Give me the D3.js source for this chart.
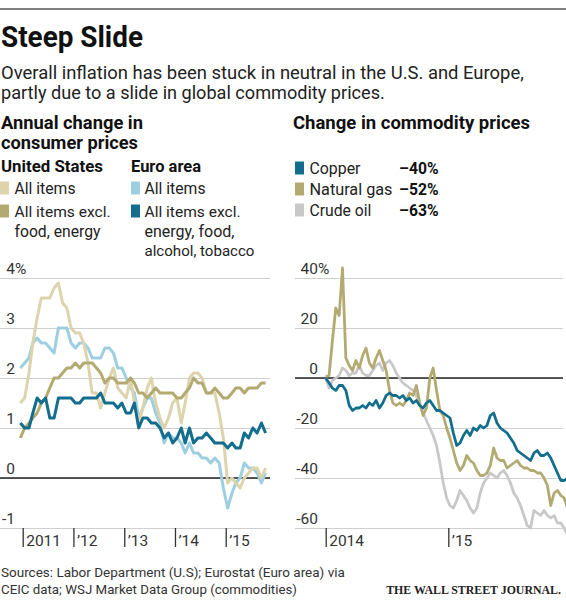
<!DOCTYPE html>
<html><head><meta charset="utf-8">
<script src="https://cdn.jsdelivr.net/npm/d3@7"></script>
<style>
body{margin:0;background:#fff}
svg{display:block}
</style>
</head><body>
<svg id="c" width="566" height="600" font-family="Roboto, 'Noto Sans', sans-serif"></svg>
<script>
// ---------------- DATA ----------------
// Monthly consumer prices, annual % change, Dec 2010 .. Oct 2015
const cpiStart = new Date(2010, 11, 15);
const usAll = [1.5,
  1.6,2.1,2.7,3.2,3.6,3.6,3.6,3.8,3.9,3.5,3.4,3.0,
  2.9,2.9,2.7,2.3,1.7,1.7,1.4,1.7,2.0,2.2,1.8,1.7,
  1.6,2.0,1.5,1.1,1.4,1.8,2.0,1.5,1.2,1.0,1.2,1.5,
  1.6,1.1,1.5,2.0,2.1,2.1,2.0,1.7,1.7,1.7,1.3,0.8,
  -0.1,0.0,-0.1,-0.2,0.0,0.1,0.2,0.2,0.0,0.2];
const usCore = [0.8,
  1.0,1.1,1.2,1.3,1.5,1.6,1.8,2.0,2.0,2.1,2.2,2.2,
  2.3,2.2,2.3,2.3,2.3,2.2,2.1,1.9,2.0,2.0,1.9,1.9,
  1.9,2.0,1.9,1.7,1.7,1.6,1.7,1.8,1.7,1.7,1.7,1.7,
  1.6,1.6,1.7,1.8,2.0,1.9,1.9,1.7,1.7,1.8,1.7,1.6,
  1.6,1.7,1.8,1.8,1.7,1.8,1.8,1.8,1.9,1.9];
const euAll = [2.2,
  2.3,2.4,2.7,2.8,2.7,2.7,2.6,2.5,3.0,3.0,3.0,2.7,
  2.6,2.7,2.7,2.6,2.4,2.4,2.4,2.6,2.6,2.5,2.2,2.2,
  2.0,1.8,1.7,1.2,1.4,1.6,1.6,1.3,1.1,0.7,0.9,0.8,
  0.8,0.7,0.5,0.7,0.5,0.5,0.4,0.4,0.3,0.4,0.3,-0.2,
  -0.6,-0.3,-0.1,0.0,0.3,0.2,0.2,0.1,-0.1,0.1];
const euCore = [1.1,
  1.0,1.0,1.3,1.6,1.5,1.6,1.2,1.2,1.6,1.6,1.6,1.6,
  1.5,1.5,1.6,1.6,1.6,1.6,1.7,1.5,1.5,1.5,1.4,1.5,
  1.3,1.3,1.5,1.0,1.2,1.2,1.1,1.1,1.0,0.8,0.9,0.7,
  0.8,1.0,0.7,1.0,0.7,0.8,0.8,0.9,0.8,0.7,0.7,0.7,
  0.6,0.7,0.6,0.6,0.9,0.8,1.0,0.9,1.1,0.9];
const cpiTickYears = [2011, 2012, 2013, 2014, 2015];
const cpiTicks = [4, 3, 2, 1, 0, -1];

// Commodity prices, % change since start of 2014, every 10 days
const comStart = new Date(2014, 0, 1);
const comStepDays = 10;
const copper = [0,-2,-4,-5,-3,-3,-5,-11,-13,-12,
  -12,-11,-12,-10,-11,-9,-12,-10,-7,-6,
  -7,-7,-8,-7,-9,-8,-10,-9,-11,-12,
  -10,-9,-11,-13,-13,-14,-15,-16,-22,-27,
  -26,-23,-21,-23,-20,-21,-19,-20,-19,-15,
  -14,-18,-20,-21,-22,-24,-26,-29,-30,-31,
  -32,-33,-30,-29,-31,-31,-30,-32,-35,-38,
  -41,-41,-40];
const natGas = [0.5,1,15,28,25,44,8,5,3,7,
  4,9,12,6,4,8,11,7,3,-5,
  -10,-11,-10,-11,-9,-6,-7,-3,-10,-15,
  -12,0,4,-5,-13,-15,-20,-24,-29,-34,
  -37,-35,-31,-33,-34,-37,-39,-39,-38,-35,
  -28,-32,-33,-33,-36,-35,-34,-33,-35,-36,
  -36,-37,-37,-38,-38,-40,-43,-51,-46,-45,
  -47,-48,-52];
const crudeOil = [0,-4,-1,0,1,4,3,1,2,2,
  5,2,1,1,3,5,6,3,6,7,
  5,2,0,-2,-3,-4,-5,-7,-11,-14,
  -17,-20,-23,-27,-34,-42,-48,-51,-52,-49,
  -45,-47,-49,-52,-54,-52,-46,-42,-40,-38,
  -39,-40,-38,-37,-39,-42,-46,-48,-51,-55,
  -59,-60,-53,-54,-55,-53,-55,-56,-55,-58,
  -58,-60,-63];
const comTickYears = [2014, 2015];
const comTicks = [40, 20, 0, -20, -40, -60];
const comLegend = ["Copper", "Natural gas", "Crude oil"];
const comChange = ["–40%", "–52%", "–63%"];

// ---------------- STYLE ----------------
const C = {
  usAll: "#ddd4ad", usCore: "#b3aa72", euAll: "#9dcfe1", euCore: "#136e8e",
  copper: "#136e8e", natGas: "#b3aa72", crude: "#c8c8c8",
  grid: "#cfcfcf", zero: "#222", text: "#222"
};
const SANS = "Roboto, 'Noto Sans', sans-serif";
const SERIF = "'Liberation Serif', 'DejaVu Serif', serif";

const svg = d3.select("#c");

function txt(x, y, s, size, weight, width, opts = {}) {
  const t = svg.append("text").attr("x", x).attr("y", y)
    .style("font-family", opts.family || SANS)
    .attr("font-size", size).attr("font-weight", weight || 400)
    .attr("fill", opts.fill || C.text)
    .attr("text-anchor", opts.anchor || "start")
    .text(s);
  if (width) {
    const len = t.node().getComputedTextLength();
    t.attr("font-size", (size * width / len).toFixed(2));
  }
  return t;
}

// top rule
svg.append("line").attr("x1", 0).attr("x2", 566).attr("y1", 9).attr("y2", 9)
  .attr("stroke", "#555").attr("stroke-width", 1.5);

// title (condensed look)
svg.append("text").attr("x", 1).attr("y", 47).attr("font-size", 29).attr("font-weight", 700)
  .style("font-family", SANS)
  .attr("fill", "#111").attr("textLength", 142).attr("lengthAdjust", "spacingAndGlyphs")
  .text("Steep Slide");

txt(1, 79, "Overall inflation has been stuck in neutral in the U.S. and Europe,", 17, 400, 523);
txt(1, 99, "partly due to a slide in global commodity prices.", 17, 400, 384);

txt(1, 129, "Annual change in", 17, 700, 142, {fill: "#111"});
txt(1, 149, "consumer prices", 17, 700, 137, {fill: "#111"});
txt(293, 129, "Change in commodity prices", 17, 700, 237, {fill: "#111"});

txt(1, 172, "United States", 15, 700, 102, {fill: "#111"});
txt(131, 172, "Euro area", 15, 700, 70, {fill: "#111"});

function swatch(x, yBase, color) {
  svg.append("rect").attr("x", x).attr("y", yBase - 12.5).attr("width", 9).attr("height", 13)
    .attr("fill", color);
}
swatch(0, 194, C.usAll); txt(14.5, 194, "All items", 15.5, 400, 61);
swatch(0, 217, C.usCore); txt(14.5, 217, "All items excl.", 15.5, 400, 96);
txt(14.5, 237, "food, energy", 15.5, 400, 86);
swatch(131, 194, C.euAll); txt(144.5, 194, "All items", 15.5, 400, 61);
swatch(131, 217, C.euCore); txt(144.5, 217, "All items excl.", 15.5, 400, 96);
txt(144.5, 237, "energy, food,", 15.5, 400, 90);
txt(144.5, 256, "alcohol, tobacco", 15.5, 400, 110);

const comColors = [C.copper, C.natGas, C.crude];
const comLegendY = [174, 195, 216];
const comLegendW = [51, 83, 62];
comLegend.forEach((s, i) => {
  swatch(295, comLegendY[i], comColors[i]);
  txt(309.5, comLegendY[i], s, 15.5, 400, comLegendW[i]);
  txt(399, comLegendY[i], comChange[i], 15.5, 700, 39.5, {fill: "#111"});
});

// ---------------- AXIS HELPERS ----------------
function yGrid(g, scale, ticks, width, labelX) {
  g.call(d3.axisRight(scale).tickValues(ticks).tickSize(width)
    .tickFormat(d => d < 0 ? "-" + Math.abs(d) : String(d)));
  g.select(".domain").remove();
  g.selectAll(".tick line").attr("stroke", C.grid).attr("stroke-width", 1.1);
  g.selectAll(".tick text").attr("x", labelX).attr("y", -5).attr("dy", 0)
    .attr("text-anchor", "end").attr("font-size", 15.5).attr("fill", "#333")
    .style("font-family", SANS);
  g.selectAll(".tick").filter(d => d === ticks[0]).append("text")
    .attr("x", labelX).attr("y", -5).attr("font-size", 15.5).attr("fill", "#333")
    .style("font-family", SANS).text("%");
}
function xAxis(g, scale, years, fmt) {
  g.call(d3.axisBottom(scale).tickValues(years.map(y => new Date(y, 0, 1)))
    .tickSize(19).tickFormat(fmt));
  g.select(".domain").remove();
  g.selectAll(".tick line").attr("stroke", "#333").attr("stroke-width", 1.3);
  g.selectAll(".tick text").attr("x", 3).attr("y", 18).attr("dy", 0)
    .attr("text-anchor", "start").attr("font-size", 15.5).attr("fill", "#333")
    .style("font-family", SANS);
}
const yearFmt = first => d => d.getFullYear() === first ? String(first) : "’" + String(d.getFullYear()).slice(2);

// ---------------- LEFT CHART ----------------
const xL = d3.scaleTime().domain([new Date(2011, 0, 1), new Date(2015, 0, 1)]).range([22.7, 225.7]);
const yL = d3.scaleLinear().domain([-1, 4]).range([528, 278]);

const gL = svg.append("g");
gL.append("g").call(g => yGrid(g, yL, cpiTicks, 270, 15));
gL.append("line").attr("x1", 0).attr("x2", 270).attr("y1", yL(0)).attr("y2", yL(0))
  .attr("stroke", C.zero).attr("stroke-width", 1.3);
gL.append("g").attr("transform", "translate(0,528)")
  .call(g => xAxis(g, xL, cpiTickYears, yearFmt(2011)));

const cpiDate = i => d3.timeMonth.offset(cpiStart, i);
const lineL = d3.line().x((d, i) => xL(cpiDate(i))).y(d => yL(d));
[[euAll, C.euAll], [usAll, C.usAll], [usCore, C.usCore], [euCore, C.euCore]].forEach(([data, col]) => {
  gL.append("path").datum(data).attr("d", lineL).attr("fill", "none")
    .attr("stroke", col).attr("stroke-width", 3).attr("stroke-linejoin", "round");
});

// ---------------- RIGHT CHART ----------------
const xR = d3.scaleTime().domain([new Date(2014, 0, 1), new Date(2015, 0, 1)]).range([325.7, 448.3]);
const yR = d3.scaleLinear().domain([-60, 40]).range([528, 278]);
const gR = svg.append("g");
gR.append("g").attr("transform", "translate(295,0)").call(g => yGrid(g, yR, comTicks, 268, 23));
gR.append("line").attr("x1", 295).attr("x2", 563).attr("y1", yR(0)).attr("y2", yR(0))
  .attr("stroke", C.zero).attr("stroke-width", 1.3);
gR.append("g").attr("transform", "translate(0,528)")
  .call(g => xAxis(g, xR, comTickYears, yearFmt(2014)));

const comDate = i => d3.timeDay.offset(comStart, i * comStepDays);
const lineR = d3.line().x((d, i) => xR(comDate(i))).y(d => yR(d));
[[crudeOil, C.crude], [natGas, C.natGas], [copper, C.copper]].forEach(([data, col]) => {
  gR.append("path").datum(data).attr("d", lineR).attr("fill", "none")
    .attr("stroke", col).attr("stroke-width", 2.8).attr("stroke-linejoin", "round");
});

// ---------------- FOOTER ----------------
txt(1, 577, "Sources: Labor Department (U.S); Eurostat (Euro area) via", 13.5, 400, 344, {fill: "#333"});
txt(1, 594, "CEIC data; WSJ Market Data Group (commodities)", 13.5, 400, 296, {fill: "#333"});
txt(561, 594, "THE WALL STREET JOURNAL.", 13.5, 700, 175,
  {anchor: "end", fill: "#222", family: SERIF});
</script>
</body></html>
